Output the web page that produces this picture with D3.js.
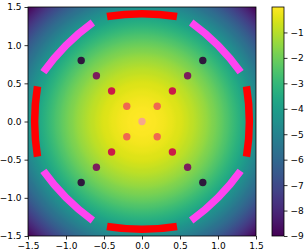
<head>
<meta charset="utf-8">
<style>
body { margin: 0; background: #fff; }
text { font-family: "DejaVu Sans", sans-serif; font-size: 9px; fill: #000; }
.axis path, .axis line { stroke: #000; stroke-width: 0.8; }
</style>
</head>
<body>
<div id="chart"></div>
<script src="https://cdn.jsdelivr.net/npm/d3@7"></script>
<script>
(function() {
  "use strict";

  // data
  var xTicks = [-1.5, -1.0, -0.5, 0.0, 0.5, 1.0, 1.5];
  var yTicks = [-1.5, -1.0, -0.5, 0.0, 0.5, 1.0, 1.5];
  var cbTicks = [-1, -2, -3, -4, -5, -6, -7, -8, -9];
  var fieldDomain = [-9, 0];

  var pointX = [0, 0.2, 0.4, 0.6, 0.8, -0.2, -0.4, -0.6, -0.8, 0.2, 0.4, 0.6, 0.8, -0.2, -0.4, -0.6, -0.8];
  var pointY = [0, 0.2, 0.4, 0.6, 0.8, 0.2, 0.4, 0.6, 0.8, -0.2, -0.4, -0.6, -0.8, -0.2, -0.4, -0.6, -0.8];
  var pointLevel = [0, 1, 2, 3, 4, 1, 2, 3, 4, 1, 2, 3, 4, 1, 2, 3, 4];

  var arcCenter = [90, 135, 180, 225, 270, 315, 0, 45];
  var arcKind = ["red", "pink", "red", "pink", "red", "pink", "red", "pink"];
  var arcHalf = 18.5, arcR = 1.45;

  var W = 305, H = 252,
    margin = {top: 7, left: 28, right: 49, bottom: 16};

  var x = d3.scaleLinear().domain([-1.5, 1.5]).range([margin.left, W - margin.right]);
  var y = d3.scaleLinear().domain([-1.5, 1.5]).range([H - margin.bottom, margin.top]);

  var svg = d3.select("#chart").append("svg").attr("width", W).attr("height", H);
  var defs = svg.append("defs");

  function field(r) { return -2 * r * r; }
  var norm = d3.scaleLinear().domain(fieldDomain).range([0, 1]).clamp(true);

  // background field as radial gradient
  var rMax = 1.5 * Math.SQRT2;
  var rg = defs.append("radialGradient").attr("id", "bg")
    .attr("gradientUnits", "userSpaceOnUse")
    .attr("cx", x(0)).attr("cy", y(0)).attr("r", x(rMax) - x(0));
  d3.range(0, 61).forEach(function(i) {
    var t = i / 60;
    rg.append("stop").attr("offset", t)
      .attr("stop-color", d3.interpolateViridis(norm(field(t * rMax))));
  });
  defs.append("clipPath").attr("id", "clip").append("rect")
    .attr("x", x(-1.5)).attr("y", y(1.5))
    .attr("width", x(1.5) - x(-1.5)).attr("height", y(-1.5) - y(1.5));

  var plot = svg.append("g").attr("clip-path", "url(#clip)");
  plot.append("rect")
    .attr("x", x(-1.5)).attr("y", y(1.5))
    .attr("width", x(1.5) - x(-1.5)).attr("height", y(-1.5) - y(1.5))
    .attr("fill", "url(#bg)");

  // arcs
  var arcColor = {red: "#ff0000", pink: "#ff44f0"};
  function arcPath(c) {
    var a0 = (c - arcHalf) * Math.PI / 180, a1 = (c + arcHalf) * Math.PI / 180, am = c * Math.PI / 180;
    var p = d3.path();
    p.moveTo(x(arcR * Math.cos(a0)), y(arcR * Math.sin(a0)));
    p.quadraticCurveTo(x(arcR * Math.cos(am)), y(arcR * Math.sin(am)),
      x(arcR * Math.cos(a1)), y(arcR * Math.sin(a1)));
    return p.toString();
  }
  plot.selectAll("path.arc").data(arcCenter).enter().append("path")
    .attr("class", "arc")
    .attr("d", arcPath)
    .attr("fill", "none")
    .attr("stroke", function(d, i) { return arcColor[arcKind[i]]; })
    .attr("stroke-width", 7.5)
    .attr("stroke-linecap", "butt");

  // points
  var ptColor = d3.scaleOrdinal().domain([0, 1, 2, 3, 4])
    .range(["#f6a88b", "#ef6850", "#cb1a48", "#7c1d5c", "#2e183c"]);
  plot.selectAll("circle").data(pointX).enter().append("circle")
    .attr("cx", function(d) { return x(d); })
    .attr("cy", function(d, i) { return y(pointY[i]); })
    .attr("r", 3.7)
    .attr("fill", function(d, i) { return ptColor(pointLevel[i]); });

  // axes
  var fmt = d3.format(".1f");
  var gx = svg.append("g").attr("class", "axis")
    .attr("transform", "translate(0," + y(-1.5) + ")")
    .call(d3.axisBottom(x).tickValues(xTicks).tickFormat(fmt).tickSize(3.5).tickPadding(3));
  var gy = svg.append("g").attr("class", "axis")
    .attr("transform", "translate(" + x(-1.5) + ",0)")
    .call(d3.axisLeft(y).tickValues(yTicks).tickFormat(fmt).tickSize(3.5).tickPadding(3));
  svg.append("rect")
    .attr("x", x(-1.5)).attr("y", y(1.5))
    .attr("width", x(1.5) - x(-1.5)).attr("height", y(-1.5) - y(1.5))
    .attr("fill", "none").attr("stroke", "#000").attr("stroke-width", 0.8);
  svg.selectAll(".axis text").attr("font-size", null);
  svg.selectAll(".axis path.domain").remove();

  // colorbar
  var cbX = 272, cbW = 12;
  var cy = d3.scaleLinear().domain(fieldDomain).range([y(-1.5), y(1.5)]);
  var lg = defs.append("linearGradient").attr("id", "cb")
    .attr("x1", 0).attr("y1", 1).attr("x2", 0).attr("y2", 0);
  d3.range(0, 41).forEach(function(i) {
    lg.append("stop").attr("offset", i / 40).attr("stop-color", d3.interpolateViridis(i / 40));
  });
  svg.append("rect")
    .attr("x", cbX).attr("y", cy(0)).attr("width", cbW).attr("height", cy(-9) - cy(0))
    .attr("fill", "url(#cb)").attr("stroke", "#000").attr("stroke-width", 0.8);
  var gc = svg.append("g").attr("class", "axis")
    .attr("transform", "translate(" + (cbX + cbW) + ",0)")
    .call(d3.axisRight(cy).tickValues(cbTicks).tickFormat(d3.format("d")).tickSize(3.5).tickPadding(3));
  gc.select("path.domain").remove();
  gc.selectAll("text").attr("font-size", null);
})();
</script>
</body>
